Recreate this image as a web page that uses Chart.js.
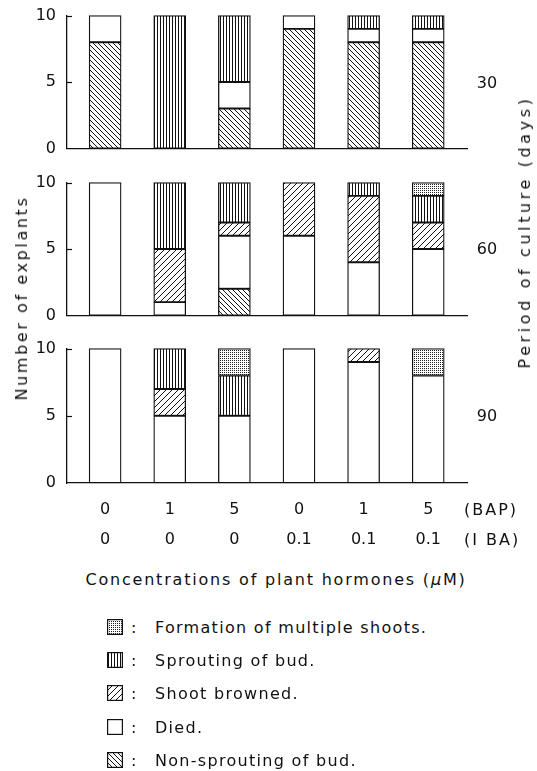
<!DOCTYPE html>
<html lang="en">
<head>
<meta charset="UTF-8">
<title>Explant response to plant hormones</title>
<script src="https://cdn.jsdelivr.net/npm/chart.js"></script>
<style>
  body { margin: 0; background: #fff; }
  #wrap { position: relative; width: 537px; height: 771px; font-family: 'DejaVu Sans', sans-serif; color: #111; overflow: hidden; }
  canvas.panel { position: absolute; left: 0; }
  .t { position: absolute; font-size: 16px; white-space: nowrap; line-height: 1; }
  .mid { transform: translate(-50%, -50%); }
  .rot { transform: translate(-50%, -50%) rotate(-90deg); }
  .leg { position: absolute; left: 107px; height: 20px; display: flex; align-items: center; font-size: 16px; letter-spacing: 1.3px; }
  .leg canvas { display: block; }
  .leg .colon { width: 32px; padding-left: 8px; box-sizing: border-box; }
</style>
</head>
<body>
<div id="wrap">
  <canvas class="panel" id="p30" width="537" height="174" style="top:-5px"></canvas>
  <canvas class="panel" id="p60" width="537" height="174" style="top:162px"></canvas>
  <canvas class="panel" id="p90" width="537" height="225" style="top:328px"></canvas>

  <div class="t rot" style="left:22px; top:298px; letter-spacing:2.6px">Number of explants</div>
  <div class="t rot" style="left:525px; top:232px; letter-spacing:3.6px">Period of culture (days)</div>
  <div class="t mid" style="left:487px; top:83px">30</div>
  <div class="t mid" style="left:487px; top:249px">60</div>
  <div class="t mid" style="left:487px; top:416px">90</div>
  <div class="t" style="left:464px; top:502px; letter-spacing:2px">(BAP)</div>
  <div class="t" style="left:464px; top:532px; letter-spacing:2px">(I BA)</div>
  <div class="t mid" style="left:276px; top:580px; letter-spacing:1.8px">Concentrations of plant hormones (<i>μ</i>M)</div>
  <div id="legend"></div>
</div>

<script>
// x categories (hormone concentrations, µM)
const bap = ['0', '1', '5', '0', '1', '5'];
const iba = ['0', '0', '0', '0.1', '0.1', '0.1'];
const periods = ['30', '60', '90'];

// number of explants per category, one row per period (30, 60, 90 days)
const nonSprouting = [[8, 0, 3, 9, 8, 8], [0, 0, 2, 0, 0, 0], [0, 0, 0, 0, 0, 0]];
const died         = [[2, 0, 2, 1, 1, 1], [10, 1, 4, 6, 4, 5], [10, 5, 5, 10, 9, 8]];
const browned      = [[0, 0, 0, 0, 0, 0], [0, 4, 1, 4, 5, 2], [0, 2, 0, 0, 1, 0]];
const sprouting    = [[0, 10, 5, 0, 1, 1], [0, 5, 3, 0, 1, 2], [0, 3, 3, 0, 0, 0]];
const multiple     = [[0, 0, 0, 0, 0, 0], [0, 0, 0, 0, 0, 1], [0, 0, 2, 0, 0, 2]];

const yTicks = [0, 5, 10];

const seriesNames = ['Non-sprouting of bud.', 'Died.', 'Shoot browned.', 'Sprouting of bud.', 'Formation of multiple shoots.'];
const seriesValues = [nonSprouting, died, browned, sprouting, multiple];
const seriesFill = ['back', 'none', 'fwd', 'vert', 'dots'];

const INK = '#111';

function makePattern(kind) {
    const c = document.createElement('canvas');
    const ctx = c.getContext('2d');
    let s = 4;
    if (kind === 'back') s = 5;
    if (kind === 'fwd') s = 6;
    if (kind === 'vert') s = 3;
    if (kind === 'dots') s = 2;
    c.width = c.height = s;
    ctx.fillStyle = '#fff';
    ctx.fillRect(0, 0, s, s);
    ctx.strokeStyle = INK;
    ctx.fillStyle = INK;
    ctx.lineWidth = 1;
    if (kind === 'back') {
        ctx.beginPath();
        ctx.moveTo(-1, -1); ctx.lineTo(s + 1, s + 1);
        ctx.moveTo(-1, s - 1); ctx.lineTo(1, s + 1);
        ctx.moveTo(s - 1, -1); ctx.lineTo(s + 1, 1);
        ctx.stroke();
    } else if (kind === 'fwd') {
        ctx.beginPath();
        ctx.moveTo(-1, s + 1); ctx.lineTo(s + 1, -1);
        ctx.moveTo(-1, 1); ctx.lineTo(1, -1);
        ctx.moveTo(s - 1, s + 1); ctx.lineTo(s + 1, s - 1);
        ctx.stroke();
    } else if (kind === 'vert') {
        ctx.fillRect(1, 0, 1, s);
    } else if (kind === 'dots') {
        ctx.fillStyle = '#222';
        ctx.fillRect(0, 0, 1, 1);
    }
    return ctx.createPattern(c, 'repeat');
}

const fills = seriesFill.map(makePattern);

// short tick marks pointing into the plot
const innerTicks = {
    id: 'innerTicks',
    afterDraw(chart) {
        const y = chart.scales.y;
        const ctx = chart.ctx;
        ctx.save();
        ctx.strokeStyle = INK;
        ctx.lineWidth = 1.2;
        y.ticks.forEach(t => {
            if (t.value === 0) return;
            const py = Math.round(y.getPixelForValue(t.value)) + 0.5;
            ctx.beginPath();
            ctx.moveTo(y.right, py);
            ctx.lineTo(y.right + 5, py);
            ctx.stroke();
        });
        ctx.restore();
    }
};

function buildPanel(id, p, showLabels) {
    const datasets = seriesValues.map((vals, k) => ({
        label: seriesNames[k],
        data: vals[p].map((v, i) => ({ x: i, y: v || null })),
        backgroundColor: fills[k],
        borderColor: INK,
        borderWidth: 1.3,
        borderSkipped: false,
        barThickness: 32,
        clip: 4
    }));

    new Chart(document.getElementById(id), {
        type: 'bar',
        data: { datasets },
        plugins: [innerTicks],
        options: {
            responsive: false,
            animation: false,
            events: [],
            layout: { padding: { top: 10, right: 70, bottom: showLabels ? 0 : 10, left: 0 } },
            plugins: { legend: { display: false }, tooltip: { enabled: false } },
            scales: {
                x: {
                    type: 'linear',
                    stacked: true,
                    offset: false,
                    min: -0.59,
                    max: 5.6,
                    grid: { display: false, drawTicks: false },
                    border: { display: true, color: INK, width: 1.3 },
                    afterBuildTicks: scale => { scale.ticks = bap.map((_, i) => ({ value: i })); },
                    afterFit: scale => { scale.height = showLabels ? 70 : 0; },
                    ticks: {
                        display: showLabels,
                        autoSkip: false,
                        maxRotation: 0,
                        padding: 12,
                        color: INK,
                        font: { family: 'DejaVu Sans', size: 16, lineHeight: 1.875 },
                        callback: (value, index) => [bap[index], iba[index]]
                    }
                },
                y: {
                    stacked: true,
                    min: 0,
                    max: 10,
                    grid: { display: false, drawTicks: false },
                    border: { display: true, color: INK, width: 1.3 },
                    afterBuildTicks: scale => { scale.ticks = yTicks.map(v => ({ value: v })); },
                    afterFit: scale => { scale.width = 67; },
                    ticks: {
                        padding: 11,
                        color: INK,
                        font: { family: 'DejaVu Sans', size: 16 }
                    }
                }
            }
        }
    });
}

buildPanel('p30', 0, false);
buildPanel('p60', 1, false);
buildPanel('p90', 2, true);

// legend, top row is the top of the stack
const legend = document.getElementById('legend');
const legendTops = [617, 650, 683, 717, 750];
for (let r = 0; r < seriesNames.length; r++) {
    const k = seriesNames.length - 1 - r;
    const row = document.createElement('div');
    row.className = 'leg';
    row.style.top = legendTops[r] + 'px';
    const box = document.createElement('canvas');
    box.width = 16; box.height = 16;
    const bctx = box.getContext('2d');
    bctx.fillStyle = fills[k];
    bctx.fillRect(0, 0, 16, 16);
    bctx.strokeStyle = INK;
    bctx.lineWidth = 1.2;
    bctx.strokeRect(0.6, 0.6, 14.8, 14.8);
    const colon = document.createElement('span');
    colon.className = 'colon';
    colon.textContent = ':';
    const label = document.createElement('span');
    label.textContent = seriesNames[k];
    row.appendChild(box);
    row.appendChild(colon);
    row.appendChild(label);
    legend.appendChild(row);
}
</script>
</body>
</html>
